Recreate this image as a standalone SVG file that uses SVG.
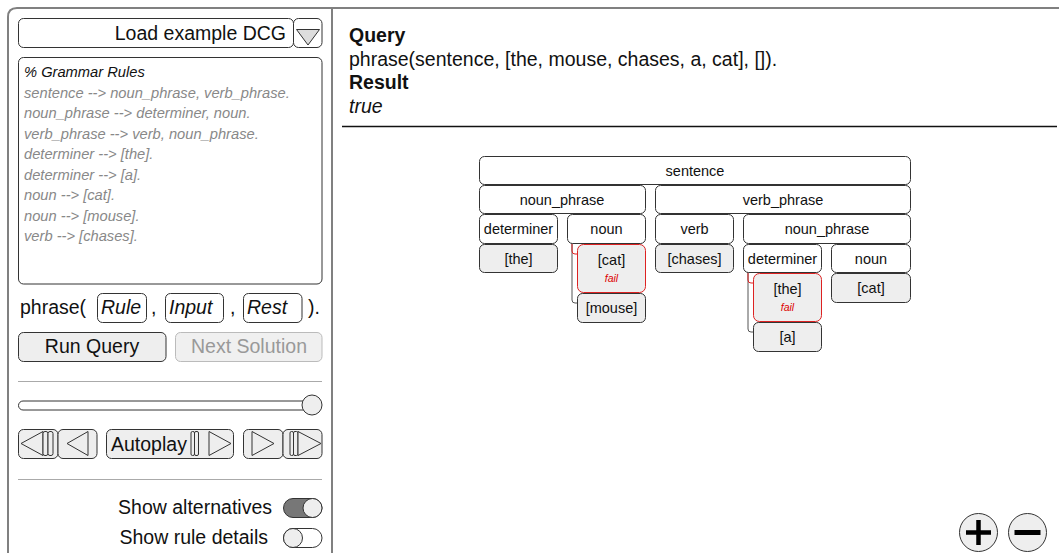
<svg xmlns="http://www.w3.org/2000/svg" width="1059" height="553" viewBox="0 0 1059 553">
<style>
text{font-family:"Liberation Sans",Arial,sans-serif;fill:#111}
.frame{fill:none;stroke:#808080;stroke-width:2}
.ctl{fill:#fff;stroke:#333;stroke-width:1}
.btn{fill:#eee;stroke:#333;stroke-width:1}
.ico{fill:#eee;stroke:#333;stroke-width:1;stroke-linejoin:round}
.big{font-size:19.5px}
.rule{font-size:14.7px;font-style:italic;fill:#888}
.sep{stroke:#aaa;stroke-width:1}
.node{fill:#fff;stroke:#333;stroke-width:1}
.leaf{fill:#eee;stroke:#333;stroke-width:1}
.failn{fill:#eee;stroke:#d22;stroke-width:1}
.lbl{font-size:14.5px;text-anchor:middle}
.fail{font-size:10.5px;font-style:italic;text-anchor:middle;fill:#d00}
.conn{fill:none;stroke:#555;stroke-width:1}
.connf{fill:none;stroke:#d22;stroke-width:1}
.q{font-size:19.5px}
</style>
<rect width="1059" height="553" fill="#fff"/>
<path class="frame" d="M8,553 V17 Q8,8 17,8 H1059"/>
<line class="frame" x1="332" y1="8" x2="332" y2="553"/>

<g id="controls">
<rect class="ctl" x="18.5" y="18.5" width="275" height="29" rx="5"/>
<text class="big" x="286" y="39.5" text-anchor="end">Load example DCG</text>
<rect class="ctl" x="293.5" y="18.5" width="28.5" height="29" rx="5"/>
<path d="M296.5,29.5 H319.5 L308,45 Z" fill="#ddd" stroke="#333" stroke-linejoin="round"/>

<rect class="ctl" x="18.5" y="57.5" width="303.5" height="226.5" rx="5"/>
<text x="24" y="77" style="font-size:14.7px;font-style:italic">% Grammar Rules</text>
<text class="rule" x="24" y="97.5">sentence --&gt; noun_phrase, verb_phrase.</text>
<text class="rule" x="24" y="118">noun_phrase --&gt; determiner, noun.</text>
<text class="rule" x="24" y="138.5">verb_phrase --&gt; verb, noun_phrase.</text>
<text class="rule" x="24" y="159">determiner --&gt; [the].</text>
<text class="rule" x="24" y="179.5">determiner --&gt; [a].</text>
<text class="rule" x="24" y="200">noun --&gt; [cat].</text>
<text class="rule" x="24" y="220.5">noun --&gt; [mouse].</text>
<text class="rule" x="24" y="241">verb --&gt; [chases].</text>

<text class="big" x="20" y="314">phrase(</text>
<rect class="ctl" x="97.5" y="293.5" width="49" height="29" rx="5"/>
<text class="big" x="101" y="314" font-style="italic">Rule</text>
<text class="big" x="151" y="314">,</text>
<rect class="ctl" x="165.5" y="293.5" width="58" height="29" rx="5"/>
<text class="big" x="169" y="314" font-style="italic">Input</text>
<text class="big" x="230" y="314">,</text>
<rect class="ctl" x="243.5" y="293.5" width="58.5" height="29" rx="5"/>
<text class="big" x="247" y="314" font-style="italic">Rest</text>
<text class="big" x="308" y="314">).</text>

<rect class="btn" x="18.5" y="332.5" width="147.5" height="29" rx="5"/>
<text class="big" x="92" y="353" text-anchor="middle">Run Query</text>
<rect x="175.5" y="332.5" width="146.5" height="29" rx="5" fill="#f0f0f0" stroke="#bbb"/>
<text class="big" x="249" y="353" text-anchor="middle" style="fill:#999">Next Solution</text>

<line class="sep" x1="18" y1="381.5" x2="322" y2="381.5"/>

<rect class="ctl" x="18.5" y="401" width="298" height="9" rx="4.5"/>
<circle class="btn" cx="312" cy="405" r="10"/>

<rect class="btn" x="18.5" y="429.5" width="39.5" height="29" rx="5"/>
<path class="ico" d="M21,443.5 L43,431.5 V455.5 Z"/>
<rect class="ico" x="43" y="431.5" width="5" height="24" rx="2"/>
<rect class="ico" x="48" y="431.5" width="5" height="24" rx="2"/>
<rect class="btn" x="58" y="429.5" width="39" height="29" rx="5"/>
<path class="ico" d="M67,443.5 L88,431.5 V455.5 Z"/>
<rect class="btn" x="106.5" y="429.5" width="127" height="29" rx="5"/>
<text class="big" x="111" y="450.5">Autoplay</text>
<rect class="ico" x="191" y="431.5" width="3.5" height="24" rx="1.5"/>
<rect class="ico" x="194.5" y="431.5" width="4" height="24" rx="1.5"/>
<path class="ico" d="M209,431.5 L231,443.5 L209,455.5 Z"/>
<rect class="btn" x="243.5" y="429.5" width="39.5" height="29" rx="5"/>
<path class="ico" d="M252,431.5 L274,443.5 L252,455.5 Z"/>
<rect class="btn" x="283" y="429.5" width="39" height="29" rx="5"/>
<rect class="ico" x="290" y="431.5" width="3.5" height="24" rx="1.5"/>
<rect class="ico" x="293.5" y="431.5" width="4.5" height="24" rx="1.5"/>
<path class="ico" d="M298,431.5 L321,443.5 L298,455.5 Z"/>

<line class="sep" x1="18" y1="479.5" x2="322" y2="479.5"/>

<text class="big" x="272" y="514" text-anchor="end">Show alternatives</text>
<rect x="283.5" y="498.5" width="38.5" height="19" rx="9.5" fill="#777" stroke="#333"/>
<circle class="btn" cx="312.5" cy="508" r="9.5"/>
<text class="big" x="268" y="543.5" text-anchor="end">Show rule details</text>
<rect class="ctl" x="283.5" y="528.5" width="38.5" height="19" rx="9.5"/>
<circle class="btn" cx="293" cy="538" r="9.5"/>
</g>

<g id="result">
<text class="q" x="349" y="42" font-weight="bold">Query</text>
<text class="q" x="349" y="65.5">phrase(sentence, [the, mouse, chases, a, cat], []).</text>
<text class="q" x="349" y="89" font-weight="bold">Result</text>
<text class="q" x="349" y="112.5" font-style="italic">true</text>
<line x1="342" y1="126.5" x2="1057" y2="126.5" stroke="#111" stroke-width="1.5"/>
</g>

<g id="connectors">
<path class="conn" d="M572,243 V300 Q572,303 575,303 H577.5"/>
<path class="connf" d="M572,244 V251 Q572,254 575,254 H577.5"/>
<path class="conn" d="M748,272 V329 Q748,332 751,332 H753.5"/>
<path class="connf" d="M748,273 V280 Q748,283 751,283 H753.5"/>
</g>

<g id="n-sentence"><rect class="node" x="479.5" y="156.5" width="431" height="28" rx="5"/><text class="lbl" x="695" y="175.5">sentence</text></g>
<g id="n-noun_phrase"><rect class="node" x="479.5" y="185.5" width="166" height="28" rx="5"/><text class="lbl" x="562" y="204.5">noun_phrase</text></g>
<g id="n-verb_phrase"><rect class="node" x="655.5" y="185.5" width="255" height="28" rx="5"/><text class="lbl" x="783" y="204.5">verb_phrase</text></g>
<g id="n-determiner"><rect class="node" x="479.5" y="214.5" width="78" height="29" rx="5"/><text class="lbl" x="518.5" y="234">determiner</text></g>
<g id="n-noun"><rect class="node" x="567.5" y="214.5" width="78" height="29" rx="5"/><text class="lbl" x="606.5" y="234">noun</text></g>
<g id="n-the"><rect class="leaf" x="479.5" y="244.5" width="78" height="28" rx="5"/><text class="lbl" x="518.5" y="263.5">[the]</text></g>
<g id="n-cat-fail"><rect class="failn" x="577.5" y="244.5" width="68" height="48" rx="6"/><text class="lbl" x="611.5" y="264.5">[cat]</text><text class="fail" x="611.5" y="282">fail</text></g>
<g id="n-mouse"><rect class="leaf" x="577.5" y="293.5" width="68" height="29" rx="5"/><text class="lbl" x="611.5" y="313">[mouse]</text></g>
<g id="n-verb"><rect class="node" x="655.5" y="214.5" width="78" height="29" rx="5"/><text class="lbl" x="694.5" y="234">verb</text></g>
<g id="n-noun_phrase2"><rect class="node" x="743.5" y="214.5" width="167" height="29" rx="5"/><text class="lbl" x="827" y="234">noun_phrase</text></g>
<g id="n-chases"><rect class="leaf" x="655.5" y="244.5" width="78" height="28" rx="5"/><text class="lbl" x="694.5" y="263.5">[chases]</text></g>
<g id="n-determiner2"><rect class="node" x="743.5" y="244.5" width="78" height="28" rx="5"/><text class="lbl" x="782.5" y="263.5">determiner</text></g>
<g id="n-noun2"><rect class="node" x="831.5" y="244.5" width="79" height="28" rx="5"/><text class="lbl" x="871" y="263.5">noun</text></g>
<g id="n-the-fail"><rect class="failn" x="753.5" y="273.5" width="68" height="48" rx="6"/><text class="lbl" x="787.5" y="293.5">[the]</text><text class="fail" x="787.5" y="311">fail</text></g>
<g id="n-a"><rect class="leaf" x="753.5" y="322.5" width="68" height="29" rx="5"/><text class="lbl" x="787.5" y="342">[a]</text></g>
<g id="n-cat2"><rect class="leaf" x="831.5" y="273.5" width="79" height="29" rx="5"/><text class="lbl" x="871" y="292.5">[cat]</text></g>

<g id="zoom">
<circle class="btn" cx="978.5" cy="532.5" r="19"/>
<path d="M966,532.5 H991 M978.5,520 V545" stroke="#000" stroke-width="4.5"/>
<circle class="btn" cx="1027.5" cy="532.5" r="19"/>
<path d="M1014.5,532.5 H1040.5" stroke="#000" stroke-width="5"/>
</g>
</svg>
